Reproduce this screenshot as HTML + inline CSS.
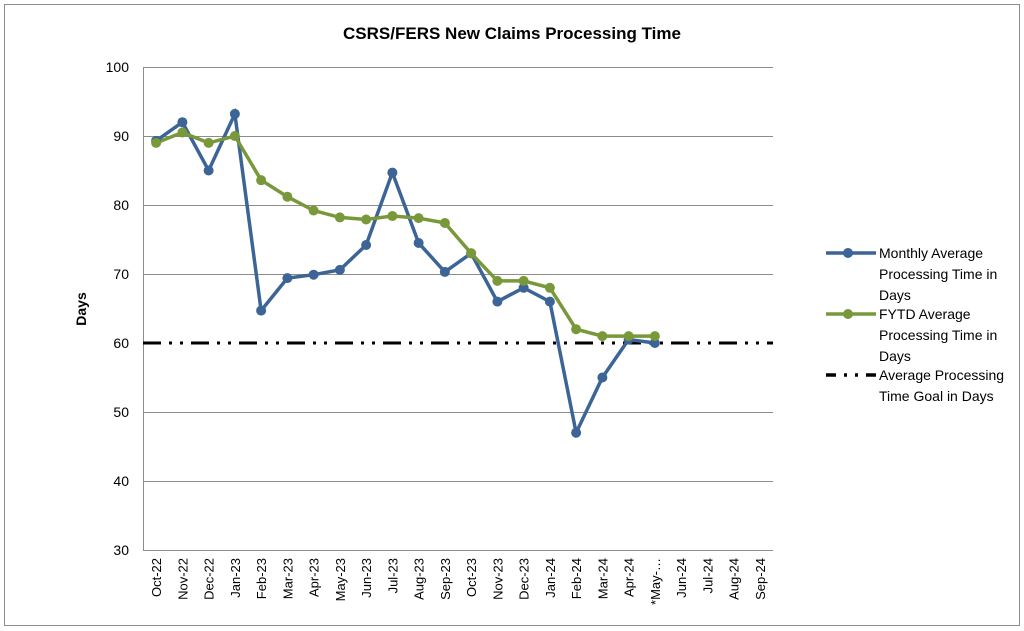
<!DOCTYPE html>
<html><head><meta charset="utf-8"><style>body{margin:0;background:#fff}svg{display:block}</style></head><body>
<svg width="1024" height="631" xmlns="http://www.w3.org/2000/svg" font-family="Liberation Sans, sans-serif">
<rect x="4.5" y="4.5" width="1015" height="621" fill="#fff" stroke="#8c8c8c"/>
<text x="512" y="39" text-anchor="middle" font-size="17" font-weight="bold">CSRS/FERS New Claims Processing Time</text>
<g stroke="#8c8c8c" stroke-width="1">
<line x1="143" y1="67.5" x2="773" y2="67.5"/><line x1="143" y1="136.5" x2="773" y2="136.5"/>
<line x1="143" y1="205.5" x2="773" y2="205.5"/><line x1="143" y1="274.5" x2="773" y2="274.5"/>
<line x1="143" y1="412.5" x2="773" y2="412.5"/><line x1="143" y1="481.5" x2="773" y2="481.5"/>
<line x1="143" y1="550.5" x2="773" y2="550.5"/><line x1="143.5" y1="67" x2="143.5" y2="550"/>
</g>
<g font-size="14" text-anchor="end">
<text x="129" y="72">100</text><text x="129" y="141">90</text><text x="129" y="210">80</text><text x="129" y="279">70</text><text x="129" y="348">60</text><text x="129" y="417">50</text><text x="129" y="486">40</text><text x="129" y="555">30</text>
</g>
<text transform="translate(86,309) rotate(-90)" text-anchor="middle" font-size="14" font-weight="bold">Days</text>
<g font-size="13" text-anchor="end" id="xl"></g>
<line x1="143" y1="343" x2="773" y2="343" stroke="#000" stroke-width="3" stroke-dasharray="18,8,3,8,3,8"/>
<polyline id="m" fill="none" stroke="#3c6496" stroke-width="3.5"/>
<polyline id="f" fill="none" stroke="#78983a" stroke-width="3.5"/>
<g id="pts"></g>
<line x1="826" y1="253" x2="876" y2="253" stroke="#3c6496" stroke-width="3.5"/><circle cx="848" cy="253" r="5" fill="#3c6496"/>
<line x1="826" y1="314" x2="876" y2="314" stroke="#78983a" stroke-width="3.5"/><circle cx="848" cy="314" r="5" fill="#78983a"/>
<line x1="826" y1="375" x2="876" y2="375" stroke="#000" stroke-width="3.5" stroke-dasharray="10,8,3,8,3,8"/>
<g font-size="14">
<text x="879" y="258">Monthly Average</text><text x="879" y="279">Processing Time in</text><text x="879" y="300">Days</text>
<text x="879" y="319">FYTD Average</text><text x="879" y="340">Processing Time in</text><text x="879" y="361">Days</text>
<text x="879" y="380">Average Processing</text><text x="879" y="401">Time Goal in Days</text>
</g>
</svg>
<script>
const labs=["Oct-22","Nov-22","Dec-22","Jan-23","Feb-23","Mar-23","Apr-23","May-23","Jun-23","Jul-23","Aug-23","Sep-23","Oct-23","Nov-23","Dec-23","Jan-24","Feb-24","Mar-24","Apr-24","*May-…","Jun-24","Jul-24","Aug-24","Sep-24"];
const m=[89.3,92,85,93.2,64.7,69.4,69.9,70.6,74.2,84.7,74.5,70.3,73,66,68,66,47,55,60.5,60];
const f=[89,90.5,89,90,83.6,81.2,79.2,78.2,77.9,78.4,78.1,77.4,73,69,69,68,62,61,61,61];
const X=i=>143+26.25*(i+0.5),Y=v=>67+(100-v)*6.9;
const ns="http://www.w3.org/2000/svg";
const xl=document.getElementById('xl');
labs.forEach((l,i)=>{const t=document.createElementNS(ns,'text');t.setAttribute('transform',`translate(${X(i)+5},558) rotate(-90)`);t.textContent=l;xl.appendChild(t);});
document.getElementById('m').setAttribute('points',m.map((v,i)=>X(i)+','+Y(v)).join(' '));
document.getElementById('f').setAttribute('points',f.map((v,i)=>X(i)+','+Y(v)).join(' '));
const p=document.getElementById('pts');
[[m,'#3c6496'],[f,'#78983a']].forEach(([d,c])=>d.forEach((v,i)=>{const e=document.createElementNS(ns,'circle');e.setAttribute('cx',X(i));e.setAttribute('cy',Y(v));e.setAttribute('r',5);e.setAttribute('fill',c);p.appendChild(e);}));
</script>
</body></html>
